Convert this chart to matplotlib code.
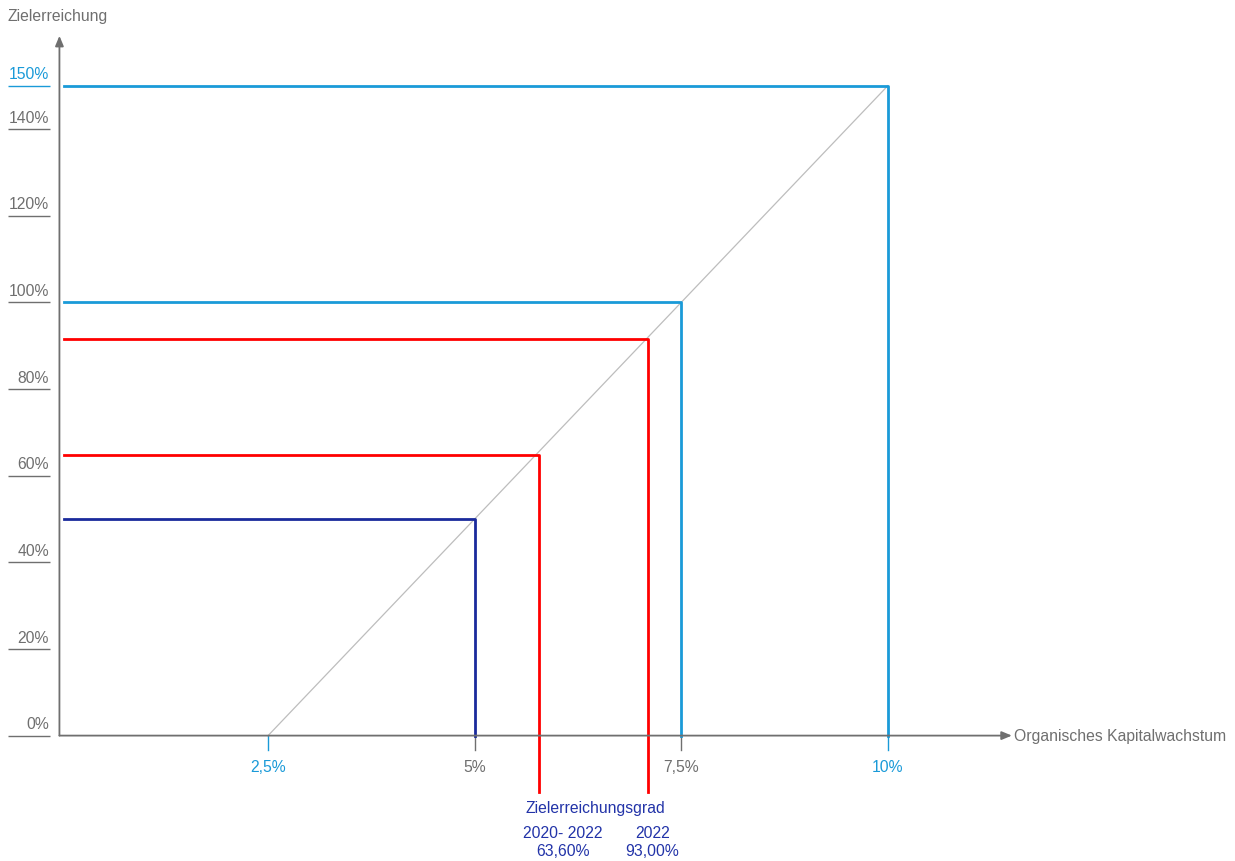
import matplotlib
matplotlib.use("Agg")
import matplotlib.pyplot as plt

plt.rcParams['font.family'] = ['Liberation Sans', 'DejaVu Sans']

# data
y_ticks = [0, 20, 40, 60, 80, 100, 120, 140, 150]
y_tick_labels = ["0%", "20%", "40%", "60%", "80%", "100%", "120%", "140%", "150%"]
x_ticks = [2.5, 5, 7.5, 10]
x_tick_labels = ["2,5%", "5%", "7,5%", "10%"]
diag_x = [2.5, 10]
diag_y = [0, 150]
# threshold corners (growth %, achievement %)
blue_x = [7.5, 10]
blue_y = [100, 150]
dark_x = [5]
dark_y = [50]
red_x = [5.78, 7.10]
red_y = [64.8, 91.5]
red_labels = ["2020- 2022\n63,60%", "2022\n93,00%"]

GREY = "#6f6f6f"
LBLUE = "#1a9ad8"
DBLUE = "#1a2a9c"
RED = "#ff0000"
TXTBLUE = "#2233a8"
FS = 11.3

fig = plt.figure(figsize=(12.35, 8.62), dpi=100)
ax = fig.add_axes([0, 0, 1, 1])
# pixel mapping: x_px = 61.5 + 82.64*x ; y_px(from top) = 736.6 - 4.333*y
ax.set_xlim(-61.5 / 82.64, (1235 - 61.5) / 82.64)
ax.set_ylim((736.6 - 862) / 4.333, 736.6 / 4.333)
ax.axis("off")

x0 = -0.025
# axes with arrows
ax.annotate("", xy=(x0, 161.5), xytext=(x0, 0), arrowprops=dict(arrowstyle="-|>,head_length=0.6,head_width=0.25", color=GREY, lw=1.3, shrinkA=0, shrinkB=0))
ax.annotate("", xy=(11.5, 0), xytext=(x0, 0), arrowprops=dict(arrowstyle="-|>,head_length=0.6,head_width=0.25", color=GREY, lw=1.3, shrinkA=0, shrinkB=0))

ax.text(-0.65, 166.3, "Zielerreichung", color=GREY, fontsize=FS, ha="left", va="center")
ax.text(11.52, 0, "Organisches Kapitalwachstum", color=GREY, fontsize=FS, ha="left", va="center")

# y tick labels with underlines
for v, lab in zip(y_ticks, y_tick_labels):
    c = LBLUE if v == 150 else GREY
    ax.plot([-0.65, -0.14], [v, v], color=c, lw=1.0, solid_capstyle="butt")
    ax.text(-0.15, v + 1.0, lab, color=c, fontsize=FS, ha="right", va="bottom")

# x tick marks and labels
for v, lab in zip(x_ticks, x_tick_labels):
    c = LBLUE if v in (2.5, 10) else GREY
    ax.plot([v, v], [0, -3.4], color=c, lw=1.0)
    ax.text(v, -7.1, lab, color=c, fontsize=FS, ha="center", va="center")

# diagonal
ax.plot(diag_x, diag_y, color="#bdbdbd", lw=0.9)

lw = 2.0
ax.plot([0.03, blue_x[0], blue_x[0]], [blue_y[0], blue_y[0], 0], color=LBLUE, lw=lw)
ax.plot([0.03, blue_x[1], blue_x[1]], [blue_y[1], blue_y[1], 0], color=LBLUE, lw=lw)
ax.plot([0.03, dark_x[0], dark_x[0]], [dark_y[0], dark_y[0], 0], color=DBLUE, lw=lw)
for xv, yv in zip(red_x, red_y):
    ax.plot([0.03, xv, xv], [yv, yv, -13.1], color=RED, lw=lw)

ax.text(6.46, -16.6, "Zielerreichungsgrad", color=TXTBLUE, fontsize=FS, ha="center", va="center")
ax.text(6.07, -24.4, red_labels[0], color=TXTBLUE, fontsize=FS, ha="center", va="center", linespacing=1.3)
ax.text(7.15, -24.4, red_labels[1], color=TXTBLUE, fontsize=FS, ha="center", va="center", linespacing=1.3)

fig.savefig("out.png", dpi=100)
